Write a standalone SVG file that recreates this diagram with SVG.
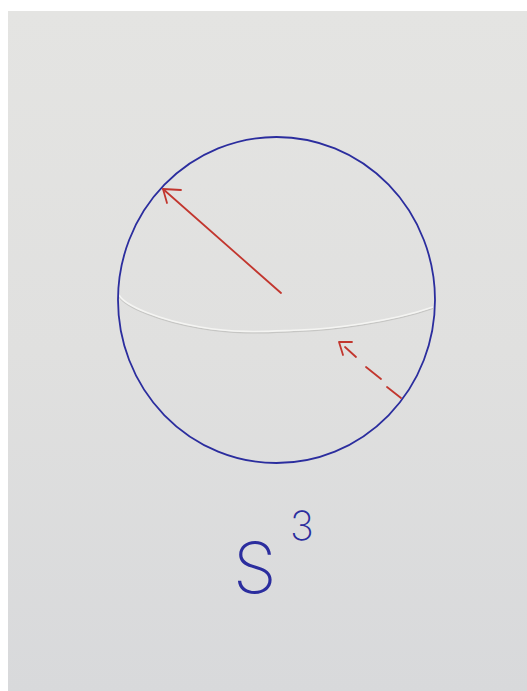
<svg xmlns="http://www.w3.org/2000/svg" width="527" height="691" viewBox="0 0 527 691">
  <style>
    .red { stroke: #c2362e; stroke-width: 1.8; fill: none; stroke-linecap: round; stroke-linejoin: round; }
    .blue { stroke: #2b2d9e; stroke-width: 1.8; fill: none; }
    .hand { fill: #2b2d9e; font-family: Inter, Roboto, "Liberation Sans", sans-serif; font-weight: 200; }
  </style>
  <defs>
    <linearGradient id="paper" x1="0" y1="0" x2="0" y2="1">
      <stop offset="0" stop-color="#e4e4e2"/>
      <stop offset="0.5" stop-color="#e0e0df"/>
      <stop offset="1" stop-color="#d8d9db"/>
    </linearGradient>
  </defs>
  <rect x="0" y="0" width="527" height="691" fill="#ffffff"/>
  <rect x="8" y="11" width="519" height="680" fill="url(#paper)"/>
  <g id="crease">
    <path d="M119 295 C 125 306, 160 320, 200 327 S 270 331, 300 330 S 390 322, 433 307" fill="none" stroke="#c6c6c4" stroke-width="1.4" transform="translate(0,1.4)"/>
    <path d="M119 295 C 125 306, 160 320, 200 327 S 270 331, 300 330 S 390 322, 433 307" fill="none" stroke="#f4f4f2" stroke-width="1.6"/>
  </g>
  <g id="sphere">
    <ellipse class="blue" cx="276.5" cy="300" rx="158.5" ry="163"/>
  </g>
  <g id="connectors">
    <g id="radius-arrow">
      <line class="red" x1="281" y1="293" x2="163" y2="189"/>
      <polyline class="red" points="181,190 163,189 167,203"/>
    </g>
    <g id="dashed-arrow">
      <line class="red" x1="345" y1="347" x2="356" y2="357"/>
      <line class="red" x1="366" y1="367" x2="381" y2="379"/>
      <line class="red" x1="387" y1="387" x2="401" y2="398"/>
      <polyline class="red" points="352,342 339,342 343,355"/>
    </g>
  </g>
  <g id="label">
    <text class="hand" x="233" y="593" font-size="70">S</text>
    <text class="hand" x="290" y="540" font-size="40">3</text>
  </g>
</svg>
